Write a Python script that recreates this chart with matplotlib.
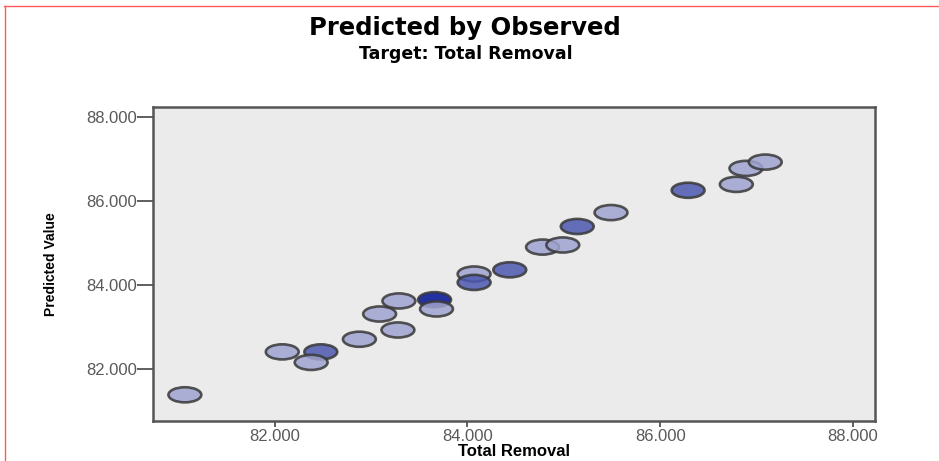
"""Predicted by Observed scatter (SPSS style) for Total Removal."""

import matplotlib

matplotlib.use("Agg")
import matplotlib.pyplot as plt
import numpy as np
from matplotlib.lines import Line2D
from matplotlib.path import Path
from matplotlib.transforms import Affine2D

# observed (x) and predicted (y) values
observed = [81.07, 82.08, 82.48, 82.38, 82.88, 83.09, 83.28, 83.29, 83.66, 83.68,
            84.07, 84.07, 84.44, 84.78, 84.99, 85.14, 85.49, 86.29, 86.79, 86.89, 87.09]
predicted = [81.39, 82.41, 82.41, 82.16, 82.71, 83.31, 82.93, 83.62, 83.65, 83.43,
             84.26, 84.06, 84.36, 84.90, 84.95, 85.39, 85.72, 86.25, 86.39, 86.77, 86.92]
# number of cases stacked on each marker (drives the darkness)
counts = [1, 1, 2, 1, 1, 1, 1, 1, 3, 1, 1, 2, 2, 1, 1, 2, 1, 2, 1, 1, 1]

ticks = [82.0, 84.0, 86.0, 88.0]
tick_labels = ["82.000", "84.000", "86.000", "88.000"]

shade = {1: "#9fa4d0", 2: "#4c58b0", 3: "#001193"}

plt.rcParams["font.family"] = ["Liberation Sans", "DejaVu Sans"]

fig = plt.figure(figsize=(9.39, 4.61), dpi=100)
ax = fig.add_axes([0.163, 0.087, 0.769, 0.681])
ax.set_facecolor("#ebebeb")

ellipse = Path.unit_circle().transformed(Affine2D().scale(1.0, 0.46))
ax.scatter(observed, predicted, s=560, marker=ellipse,
           c=[shade[n] for n in counts], alpha=0.85,
           edgecolors="#383838", linewidths=1.9, zorder=3)

ax.set_xlim(80.74, 88.23)
ax.set_ylim(80.77, 88.23)
ax.set_xticks(ticks)
ax.set_xticklabels(tick_labels)
ax.set_yticks(ticks)
ax.set_yticklabels(tick_labels)
ax.tick_params(axis="x", length=4.5, width=1.2, pad=1, color="#444444",
               labelsize=12, labelcolor="#5a5a5a")
ax.tick_params(axis="y", length=11.5, width=1.2, pad=0, color="#444444",
               labelsize=12, labelcolor="#5a5a5a")
for sp in ax.spines.values():
    sp.set_color("#555555")
    sp.set_linewidth(1.8)

ax.set_xlabel("Total Removal", fontsize=12, fontweight="bold", labelpad=0)
ax.set_ylabel("Predicted Value", fontsize=10, fontweight="bold",
              family=["Liberation Sans Narrow", "Liberation Sans"])
ax.yaxis.set_label_coords(-0.132, 0.5)

fig.text(0.495, 0.94, "Predicted by Observed", ha="center", va="center",
         fontsize=17.5, fontweight="bold", family=["DejaVu Sans"])
fig.text(0.496, 0.883, "Target: Total Removal", ha="center", va="center",
         fontsize=12.5, fontweight="bold", family=["DejaVu Sans"])

# red page frame lines from the source document
fig.add_artist(Line2D([0.0045, 1.0], [0.988, 0.988], color="#ff5a5a", lw=1.0,
                      transform=fig.transFigure))
fig.add_artist(Line2D([0.0048, 0.0048], [0.0, 0.988], color="#ff5a5a", lw=1.0,
                      transform=fig.transFigure))

fig.savefig("out.png", dpi=100)
